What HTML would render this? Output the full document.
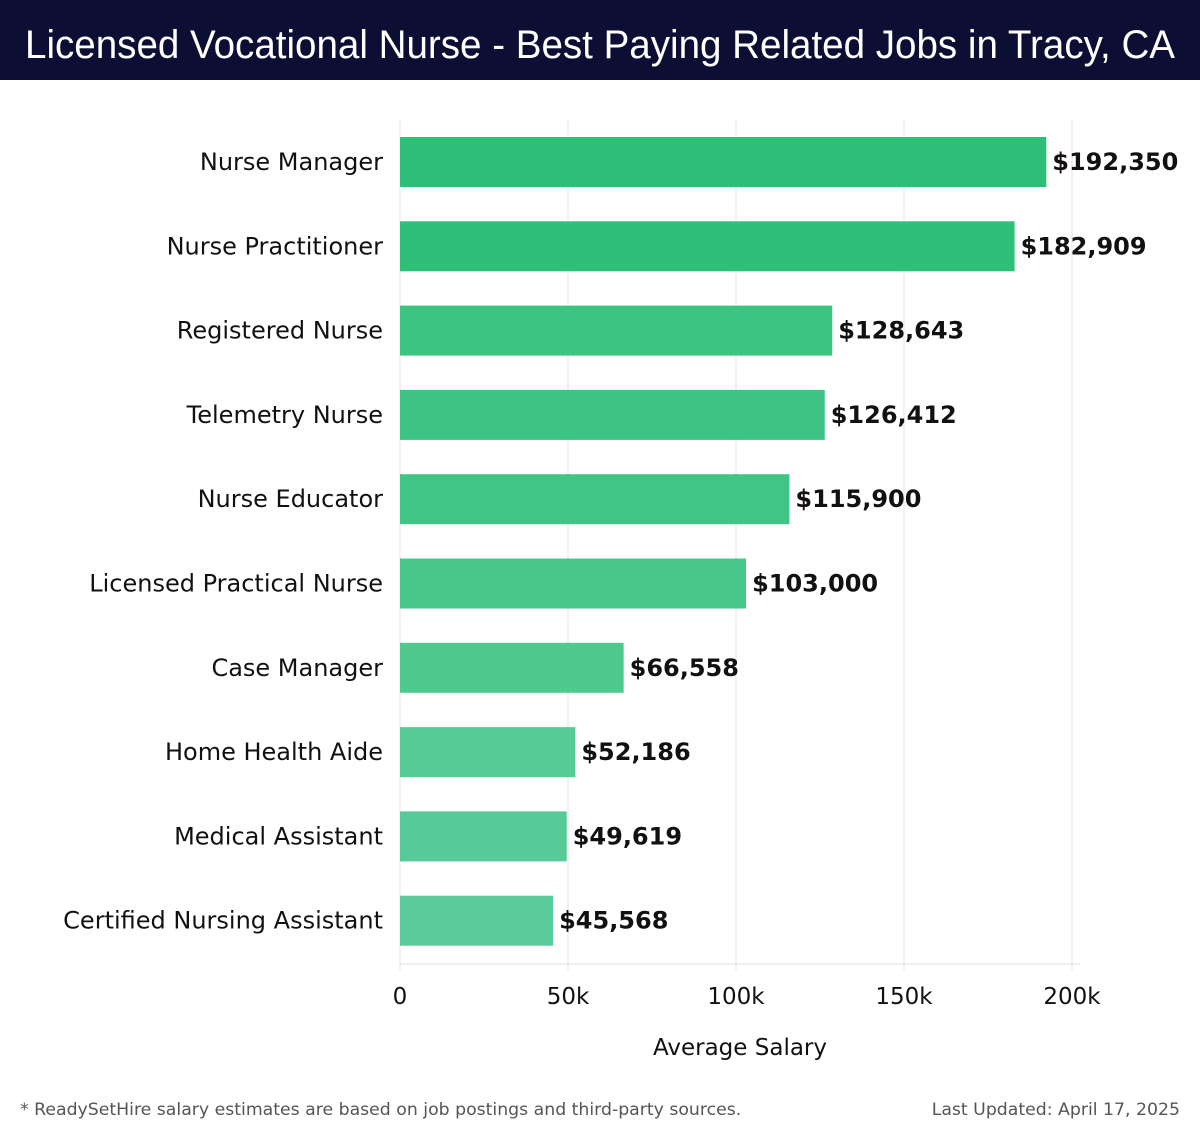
<!DOCTYPE html>
<html><head><meta charset="utf-8"><style>
body{margin:0;width:1200px;height:1140px;background:#fff;font-family:"DejaVu Sans","Liberation Sans",sans-serif;overflow:hidden}
#titlebar{position:absolute;left:0;top:0;width:1200px;height:80px;background:#0c0e33}
.foot{position:absolute;top:1100px;font-size:17.3px;color:#555}
</style></head><body>
<div id="titlebar"></div>
<svg id="chart" width="1200" height="1140" style="position:absolute;left:0;top:0">
<text x="25" y="58" font-size="40" fill="#fff" font-family="Liberation Sans, sans-serif" textLength="1150" lengthAdjust="spacingAndGlyphs">Licensed Vocational Nurse - Best Paying Related Jobs in Tracy, CA</text>
</svg>
<div class="foot" style="left:20px">* ReadySetHire salary estimates are based on job postings and third-party sources.</div>
<div class="foot" style="right:20px">Last Updated: April 17, 2025</div>
<script>
const categories=["Nurse Manager","Nurse Practitioner","Registered Nurse","Telemetry Nurse","Nurse Educator","Licensed Practical Nurse","Case Manager","Home Health Aide","Medical Assistant","Certified Nursing Assistant"];
const values=[192350,182909,128643,126412,115900,103000,66558,52186,49619,45568];
const ticks=[0,50000,100000,150000,200000];
const tickLabels=["0","50k","100k","150k","200k"];
const colors=["#2dbf78","#2ec079","#3cc483","#3dc484","#40c586","#48c68b","#4fc990","#56cb96","#57cb97","#58cb98"];
const NS="http://www.w3.org/2000/svg";
const svg=document.getElementById('chart');
const x0=400,x1=1072,yTop=120,yAxis=964;
const xs=v=>x0+(v/200000)*(x1-x0);
const band=84.3,firstC=162,bh=50;
const yc=i=>firstC+i*band;
function mk(t,a){const e=document.createElementNS(NS,t);for(const k in a)e.setAttribute(k,a[k]);svg.appendChild(e);return e;}
ticks.forEach((t,i)=>{
 const g=mk('line',{x1:xs(t),x2:xs(t),y1:yTop,y2:yAxis+6,stroke:'#e3e3e3','stroke-width':1});
 
 
 const l=mk('text',{x:xs(t),y:1004,'text-anchor':'middle','font-size':23,fill:'#111'});
 l.textContent=tickLabels[i];
 
 
});
const ax=mk('line',{x1:x0,x2:x1+8,y1:yAxis,y2:yAxis,stroke:'#ddd','stroke-width':1});


categories.forEach((c,i)=>{
 const r=mk('rect',{x:x0,y:yc(i)-bh/2,width:xs(values[i])-x0,height:bh,fill:colors[i]});
 
 
 const l=mk('text',{x:383,y:yc(i)+8,'text-anchor':'end','font-size':24,fill:'#111'});
 l.textContent=c;
 
 
 const v=mk('text',{x:xs(values[i])+6,y:yc(i)+8,'font-size':24,'font-weight':'bold',fill:'#111'});
 v.textContent='$'+values[i].toLocaleString('en-US');
 
 
});
const at=mk('text',{x:(x0+x1)/2+4,y:1055,'text-anchor':'middle','font-size':23,fill:'#111'});
at.textContent='Average Salary';


</script>
</body></html>
